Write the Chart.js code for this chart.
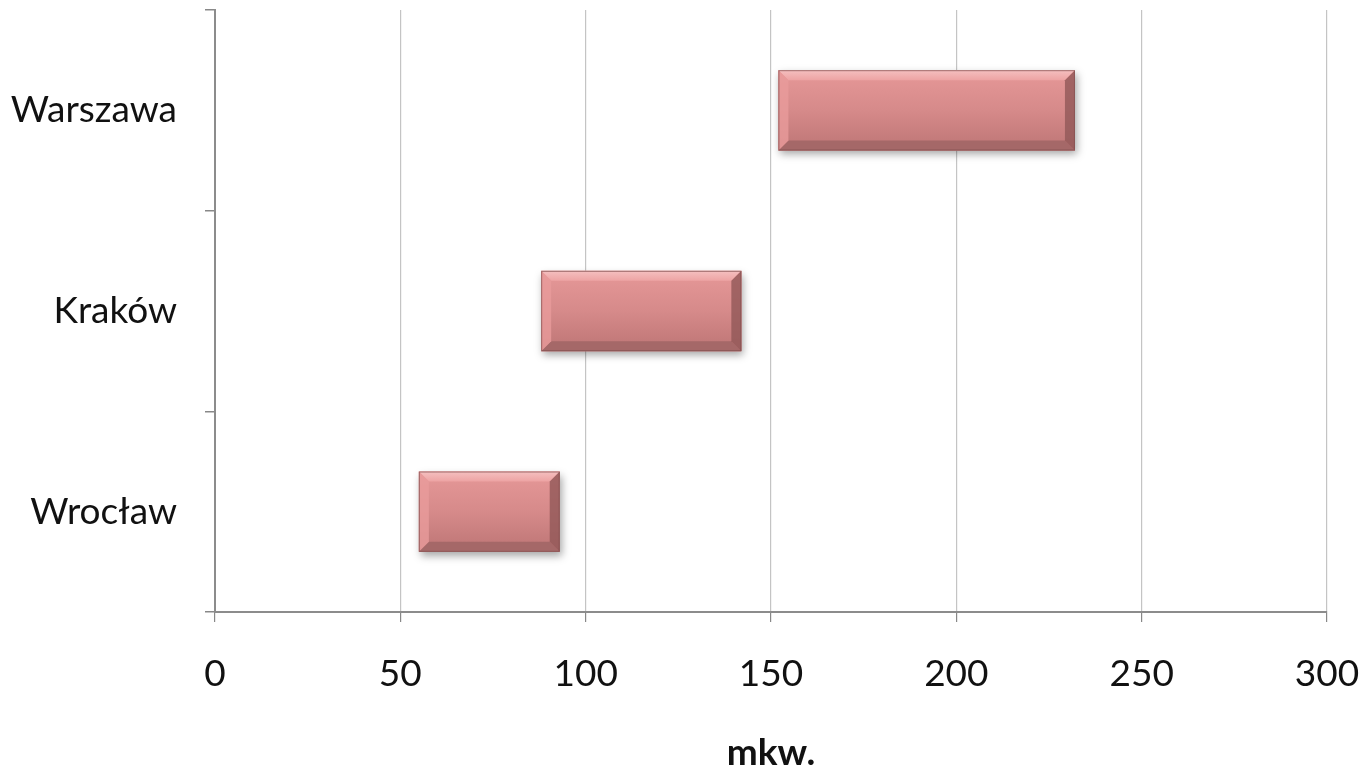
<!DOCTYPE html>
<html>
<head>
<meta charset="utf-8">
<script src="https://cdn.jsdelivr.net/npm/chart.js@4.4.1/dist/chart.umd.min.js"></script>
<style>
  html, body { margin: 0; padding: 0; background: #fff; }
  #wrap { width: 1359px; height: 772px; }
</style>
</head>
<body>
<div id="wrap"><canvas id="myChart"></canvas></div>
<script>

// --- data ---
let cities = ['Warszawa', 'Kraków', 'Wrocław'];
let startVals = [152, 88, 55];
let endVals = [232, 142, 93];
let xTicks = [0, 50, 100, 150, 200, 250, 300];
let axisTitle = 'mkw.';

let ranges = [];
for (let i = 0; i < cities.length; i++)
{
    ranges.push([startVals[i], endVals[i]]);
}

// bevel look of the bars, drawn over the bars the library placed
const bevelPlugin = {
    id: 'bevel',
    beforeDatasetsDraw(chart) {
        let c = chart.ctx;
        c.save();
        c.shadowColor = 'rgba(0,0,0,0.35)';
        c.shadowBlur = 8;
        c.shadowOffsetX = 2;
        c.shadowOffsetY = 4;
    },
    afterDatasetsDraw(chart) {
        let c = chart.ctx;
        c.restore();
        let meta = chart.getDatasetMeta(0);
        for (let bar of meta.data)
        {
            let p = bar.getProps(['x', 'y', 'base', 'height'], true);
            let l = Math.min(p.x, p.base), r = Math.max(p.x, p.base);
            let t = p.y - p.height / 2, b = p.y + p.height / 2;
            let e = 10;

            c.save();
            let g = c.createLinearGradient(0, t, 0, b);
            g.addColorStop(0, '#e69898');
            g.addColorStop(0.5, '#d68a8a');
            g.addColorStop(1, '#bd7575');
            c.fillStyle = g;
            c.fillRect(l, t, r - l, b - t);

            // top edge
            let gt = c.createLinearGradient(0, t, 0, t + e);
            gt.addColorStop(0, '#f5c0c0');
            gt.addColorStop(1, '#eda3a3');
            c.fillStyle = gt;
            c.beginPath();
            c.moveTo(l, t); c.lineTo(r, t); c.lineTo(r - e, t + e); c.lineTo(l + e, t + e);
            c.closePath(); c.fill();

            // bottom edge
            c.fillStyle = '#a56868';
            c.beginPath();
            c.moveTo(l, b); c.lineTo(r, b); c.lineTo(r - e, b - e); c.lineTo(l + e, b - e);
            c.closePath(); c.fill();

            // left edge
            c.fillStyle = 'rgba(232,155,155,0.8)';
            c.beginPath();
            c.moveTo(l, t); c.lineTo(l + e, t + e); c.lineTo(l + e, b - e); c.lineTo(l, b);
            c.closePath(); c.fill();

            // right edge
            c.fillStyle = 'rgba(145,88,88,0.8)';
            c.beginPath();
            c.moveTo(r, t); c.lineTo(r - e, t + e); c.lineTo(r - e, b - e); c.lineTo(r, b);
            c.closePath(); c.fill();

            c.strokeStyle = 'rgba(130,80,80,0.7)';
            c.lineWidth = 1;
            c.strokeRect(l + 0.5, t + 0.5, r - l - 1, b - t - 1);
            c.restore();
        }
    }
};

let ctx = document.getElementById('myChart');

let chart_cfg = {
    type: 'bar',
    data: {
      labels: cities,
      datasets: [{
        label: 'mkw.',
        data: ranges,
        backgroundColor: '#d68a8a',
        borderWidth: 0,
        barPercentage: 0.8,
        categoryPercentage: 0.5
      }]
    },
    options: {
      indexAxis: 'y',
      responsive: true,
      maintainAspectRatio: false,
      animation: false,
      layout: { padding: { top: 10, right: 32, left: 0, bottom: 0 } },
      plugins: {
        legend: { display: false },
        tooltip: { enabled: false }
      },
      scales: {
        x: {
          min: 0,
          max: 300,
          afterBuildTicks: (scale) => { scale.ticks = xTicks.map(v => ({ value: v })); },
          afterFit: (scale) => {
              scale.height = 160;
              scale.paddingLeft = 0;
              scale.paddingRight = 0;
          },
          grid: { color: '#c4c4c4', lineWidth: 1.2, tickLength: 10, tickColor: '#888' },
          border: { color: '#8c8c8c', width: 2 },
          ticks: { color: '#111', padding: 30, font: { family: 'Lato', size: 37 } },
          title: {
            display: true, text: axisTitle, color: '#111',
            font: { family: 'Lato', size: 37, weight: 'bold', lineHeight: 1 },
            padding: { top: 30, bottom: 0 }
          }
        },
        y: {
          afterFit: (scale) => {
              scale.width = 215;
              scale.paddingTop = 0;
              scale.paddingBottom = 0;
          },
          grid: { offset: true, drawOnChartArea: false, tickLength: 10, tickColor: '#888', lineWidth: 1.5 },
          border: { color: '#8c8c8c', width: 2 },
          ticks: { color: '#111', padding: 28, font: { family: 'Lato', size: 37 } }
        }
      }
    },
    plugins: [bevelPlugin]
  };

const myChart = new Chart(ctx, chart_cfg);
</script>
</body>
</html>
